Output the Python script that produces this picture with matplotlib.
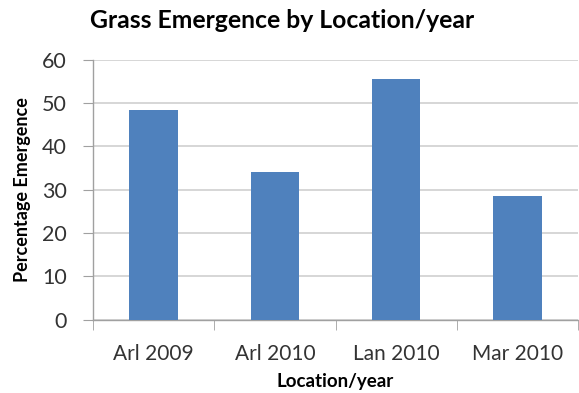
import matplotlib
matplotlib.use("Agg")
import matplotlib.pyplot as plt
import numpy as np

categories = ["Arl 2009", "Arl 2010", "Lan 2010", "Mar 2010"]
values = [48.5, 34.0, 55.7, 28.6]
yticks = [0, 10, 20, 30, 40, 50, 60]

plt.rcParams['font.family'] = ['Lato', 'DejaVu Sans']

fig = plt.figure(figsize=(5.79, 3.93), dpi=100)
ax = fig.add_axes([93/579, 1-319.5/393, 485/579, 259.5/393])

x = np.arange(len(categories))
ax.bar(x, values, width=0.4, color="#4f81bd", zorder=3)
ax.set_xlim(-0.5, len(categories) - 0.5)
ax.set_ylim(0, 60)
ax.set_yticks(yticks)
ax.yaxis.grid(True, color="#d0d0d0", linewidth=1.2, zorder=0)
ax.set_axisbelow(True)

ax.set_xticks(x)
ax.set_xticklabels(categories, fontsize=15, color="#333333")
ax.set_xticks(np.arange(-0.5, len(categories)), minor=True)
ax.tick_params(axis='x', which='major', length=0, pad=18)
ax.tick_params(axis='x', which='minor', length=7, color="#a0a0a0", direction='out')
ax.tick_params(axis='y', labelsize=15.5, labelcolor="#333333", length=7, color="#a0a0a0", pad=12)

for s in ['top', 'right']:
    ax.spines[s].set_visible(False)
for s in ['left', 'bottom']:
    ax.spines[s].set_color("#a0a0a0")
    ax.spines[s].set_linewidth(1.0)

ax.set_xlabel("Location/year", fontsize=13.5, fontweight='bold', labelpad=6)
ax.set_ylabel("Percentage Emergence", fontsize=13, fontweight='bold', labelpad=8)
fig.text(0.155, 0.949, "Grass Emergence by Location/year", fontsize=17.8, fontweight='bold', ha='left', va='center')

fig.savefig("out.png", dpi=100)
